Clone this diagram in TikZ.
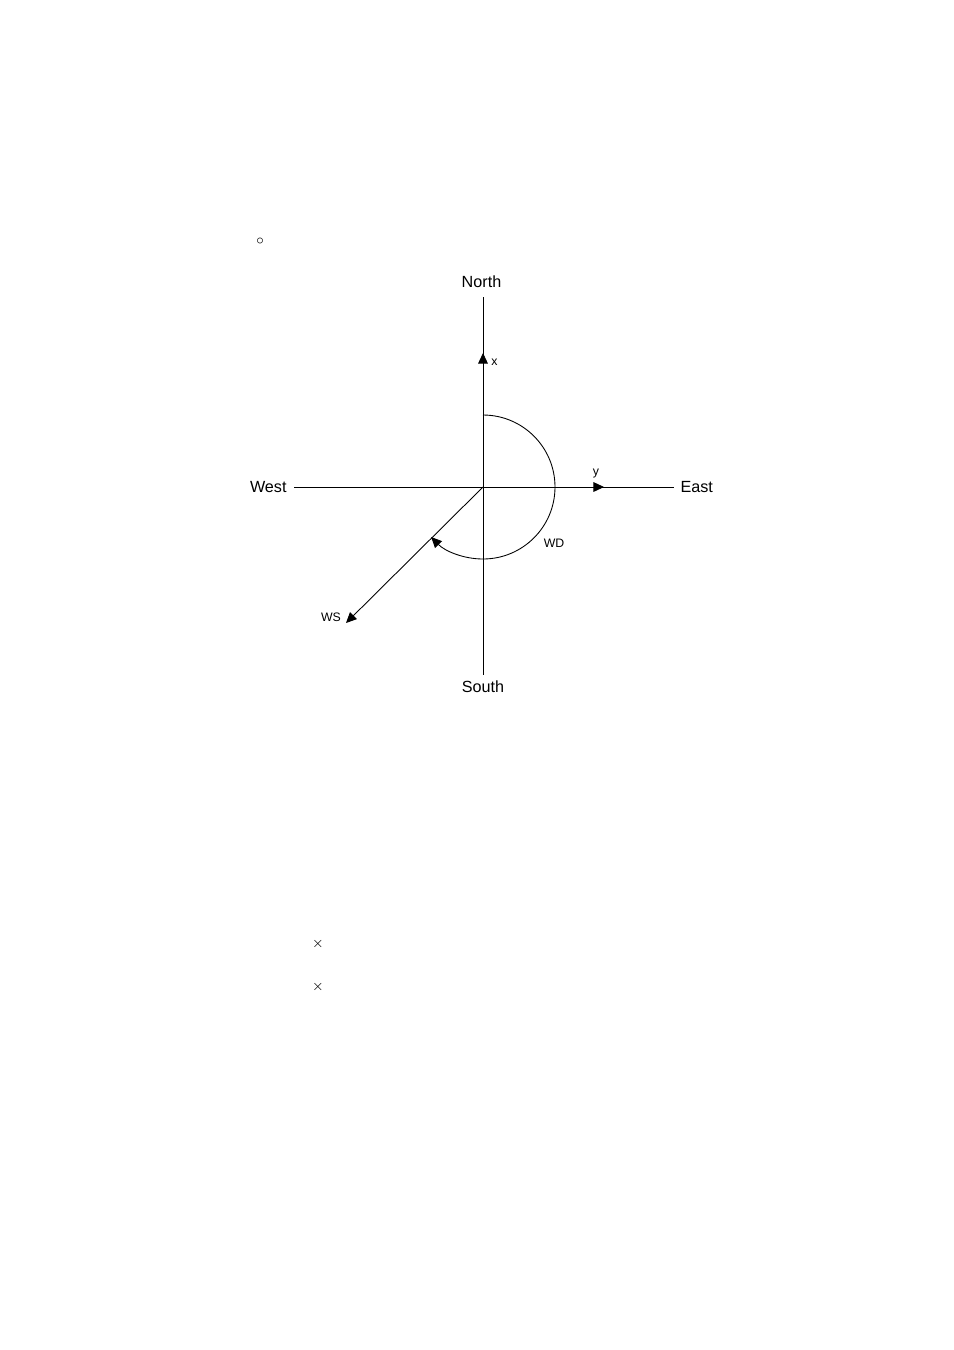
\documentclass[tikz,border=0pt]{standalone}
\usepackage{fontspec}
\setmainfont{Liberation Sans}
\usetikzlibrary{arrows.meta,positioning}
\tikzset{
	tip/.style={-{Triangle[length=6pt,width=5.5pt]}},
	compass/.style={font=\fontsize{9.2}{10}\selectfont, inner sep=1pt},
	small/.style={font=\fontsize{7}{8}\selectfont, inner sep=1pt}
}

\begin{document}
\begin{tikzpicture}[x=0.02cm,y=-0.02cm,line width=0.5pt]
			% Page frame (pixel units, y downward)
			\useasboundingbox (0,0) rectangle (954,1350);
			
			% Origin and line ends
			\coordinate (O) at (483,487);
			\coordinate (ntop) at (483,297);
			\coordinate (sbot) at (483,675);
			\coordinate (wend) at (294,487);
			\coordinate (eend) at (674,487);
			
			% Compass labels
			\node[compass, above=4.3pt of ntop, xshift=-0.03cm] (north) {North};
			\node[compass, below=2pt of sbot] (south) {South};
			\node[compass, left=3pt of wend] (west) {West};
			\node[compass, right=2.5pt of eend] (east) {East};
			
			% Axes
			\draw (ntop) -- (sbot);
			\draw (wend) -- (eend);
			
			% Arrows for x and y
			\coordinate (xtip) at (483,353);
			\coordinate (ytip) at (604,487);
			\draw[tip] (O) -- (xtip);
			\draw[tip] (O) -- (ytip);
			\node[small, right=3.5pt of xtip, yshift=-0.18cm] (xlbl) {x};
			\node[small, above=4pt of ytip, xshift=-0.16cm] (ylbl) {y};
			
			% Wind speed vector
			\coordinate (wstip) at (346,623);
			\draw[tip] (O) -- (wstip);
			\node[small] (ws) at (331,617) {WS};
			
			% Wind direction arc
			\draw[tip] (483,415) arc[start angle=-90, end angle=136, radius=72];
			\node[small] (wd) at (554,543) {WD};
			
			% Stray marks
			\node[inner sep=0pt, font=\footnotesize] (deg) at (260,241) {$\circ$};
			\node[inner sep=0pt, font=\footnotesize] (times1) at (318,944) {$\times$};
			\node[inner sep=0pt, font=\footnotesize] (times2) at (318,987) {$\times$};
			
		\end{tikzpicture}
\end{document}
